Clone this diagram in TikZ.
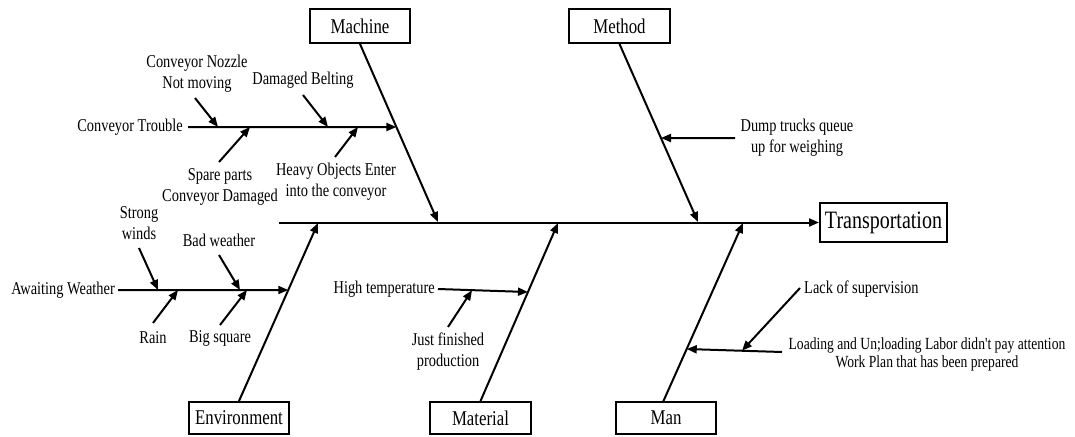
\documentclass[tikz,border=0pt]{standalone}
\usepackage{fontspec}
\setmainfont{Liberation Serif}[FakeStretch=0.8, Ligatures=TeXOff]
\usetikzlibrary{arrows.meta}
\begin{document}
\begin{tikzpicture}[x=1pt,y=-1pt,
  box/.style={draw, line width=2pt, inner sep=0pt, font=\fontsize{21}{24}\selectfont},
  lbl/.style={inner sep=0pt, align=center, font=\fontsize{18}{21}\selectfont},
  bone/.style={line width=2pt, -{Triangle[length=10pt,width=8pt]}}]
\useasboundingbox (0,0) rectangle (1075,436);

% boxes
\node[box, minimum width=100pt, minimum height=34pt] (mach) at (360,26) {Machine};
\node[box, minimum width=101pt, minimum height=34pt] (meth) at (619.5,26) {Method};
\node[box, minimum width=127pt, minimum height=39pt, font=\fontsize{25}{28}\selectfont] (trans) at (883.5,222.5) {Transportation};
\node[box, minimum width=100pt, minimum height=32pt] (env) at (239,418) {Environment};
\node[box, minimum width=101pt, minimum height=32pt] (mat) at (480.5,418) {Material};
\node[box, minimum width=100pt, minimum height=32pt] (man) at (666,418) {Man};

% spine
\coordinate (spS) at (279,222.5);
\draw[bone] (spS) -- (trans.west);

% main bones
\coordinate (mtip) at (438,222);
\coordinate (metip) at (698,222);
\coordinate (etip) at (318,223);
\coordinate (mattip) at (558,223);
\coordinate (mantip) at (743,223);
\draw[bone] (mach.south) -- (mtip);
\draw[bone] (meth.south) -- (metip);
\draw[bone] (env.north) -- (etip);
\draw[bone] (mat.north) -- (mattip);
\coordinate (manS) at (663,402);
\draw[bone] (manS) -- (mantip);

% Machine: Conveyor Trouble
\node[lbl, anchor=east] (ct) at (183,127) {Conveyor Trouble};
\coordinate (ctS) at (188,127);
\coordinate (ctT) at (intersection of mach.south--mtip and 0,127--1000,127);
\draw[bone] (ctS) -- (ctT);

\node[lbl] (noz) at (197,74) {Conveyor Nozzle\\Not moving};
\coordinate (nozS) at (195,98);
\coordinate (nozT) at (218,127);
\draw[bone] (nozS) -- (nozT);

\node[lbl] (belt) at (303,80) {Damaged Belting};
\coordinate (beltS) at (303,95);
\coordinate (beltT) at (328,127);
\draw[bone] (beltS) -- (beltT);

\node[lbl] (spare) at (220,187) {Spare parts\\Conveyor Damaged};
\coordinate (spareS) at (219,162);
\coordinate (spareT) at (250,127);
\draw[bone] (spareS) -- (spareT);

\node[lbl] (heavy) at (336,182) {Heavy Objects Enter\\into the conveyor};
\coordinate (heavyS) at (335,157);
\coordinate (heavyT) at (358,127);
\draw[bone] (heavyS) -- (heavyT);

% Method
\node[lbl] (dump) at (797,138) {Dump trucks queue\\up for weighing};
\coordinate (dumpS) at (735,138);
\coordinate (dumpT) at (intersection of meth.south--metip and 0,138--1000,138);
\draw[bone] (dumpS) -- (dumpT);

% Environment
\node[lbl, anchor=east] (aw) at (115,290) {Awaiting Weather};
\coordinate (awS) at (118,290);
\coordinate (awT) at (intersection of env.north--etip and 0,290--1000,290);
\draw[bone] (awS) -- (awT);

\node[lbl] (wind) at (139,223) {Strong\\winds};
\coordinate (windS) at (139,248);
\coordinate (windT) at (158,290);
\draw[bone] (windS) -- (windT);

\node[lbl] (bad) at (219,240) {Bad weather};
\coordinate (badS) at (219,255);
\coordinate (badT) at (240,290);
\draw[bone] (badS) -- (badT);

\node[lbl] (rain) at (153,338) {Rain};
\coordinate (rainS) at (153,323);
\coordinate (rainT) at (178,290);
\draw[bone] (rainS) -- (rainT);

\node[lbl] (big) at (220,338) {Big square};
\coordinate (bigS) at (220,325);
\coordinate (bigT) at (247,290);
\draw[bone] (bigS) -- (bigT);

% Material
\node[lbl, anchor=east] (ht) at (435,289) {High temperature};
\coordinate (htS) at (438,289);
\coordinate (htT) at (intersection of mat.north--mattip and 0,292--1000,292);
\draw[bone] (htS) -- (htT);

\node[lbl] (just) at (448,352) {Just finished\\production};
\coordinate (justS) at (448,327);
\coordinate (justT) at (472,290.3);
\draw[bone] (justS) -- (justT);

% Man
\node[lbl, anchor=west] (lack) at (804,289) {Lack of supervision};
\coordinate (lackS) at (800,288);
\coordinate (lackT) at (742,350.7);
\draw[bone] (lackS) -- (lackT);

\node[lbl, font=\fontsize{17}{18}\selectfont] (load) at (927,354) {Loading and Un;loading Labor didn't pay attention\\Work Plan that has been prepared};
\coordinate (loadS) at (782,352);
\coordinate (loadT) at (intersection of manS--mantip and 0,349--1000,349);
\draw[bone] (loadS) -- (loadT);
\end{tikzpicture}
\end{document}
